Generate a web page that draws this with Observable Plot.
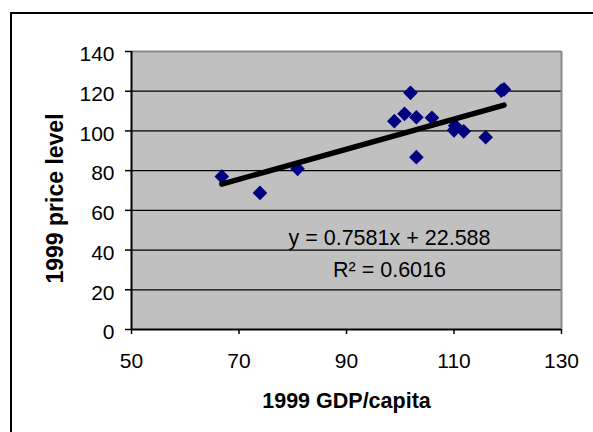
<!DOCTYPE html>
<html><head><meta charset="utf-8">
<script src="https://cdn.jsdelivr.net/npm/d3@7"></script>
<script src="https://cdn.jsdelivr.net/npm/@observablehq/plot@0.6"></script>
<style>
html,body{margin:0;padding:0;background:#fff;overflow:hidden;}
#wrap{position:relative;width:593px;height:432px;overflow:hidden;}
#border{position:absolute;left:10px;top:12px;width:700px;height:600px;border:2px solid #000;}
#chart{position:absolute;left:0;top:0;}
</style></head><body>
<div id="wrap"><div id="border"></div><div id="chart"></div></div>
<script>
// data
const gdp   = [66.8, 73.9, 80.9, 98.9, 100.8, 101.9, 103.0, 103.0, 105.9, 110.0, 110.2, 111.8, 115.9, 118.8, 119.3];
const price = [77.0, 68.8, 80.9, 104.9, 108.6, 119.2, 106.9, 86.8, 106.6, 100.3, 102.6, 99.8, 96.8, 120.3, 120.9];
const xTicks = [50, 70, 90, 110, 130];
const yTicks = [0, 20, 40, 60, 80, 100, 120, 140];
const gridTicks = [20, 40, 60, 80, 100, 120];
const slope = 0.7581, intercept = 22.588;
const eqLabel = "y = 0.7581x + 22.588";
const r2Label = "R² = 0.6016";
const xTitle = "1999 GDP/capita";
const yTitle = "1999 price level";

const points = gdp.map((g, i) => ({gdp: g, price: price[i]}));
const fit = d3.extent(gdp).map(x => ({gdp: x, price: slope * x + intercept}));

const chart = Plot.plot({
  width: 593, height: 432,
  marginLeft: 131, marginRight: 32, marginTop: 51, marginBottom: 103,
  style: {fontFamily: "'Liberation Sans', Arial, sans-serif", fontSize: "21px", background: "transparent", color: "#000", overflow: "visible"},
  x: {domain: [50, 130]},
  y: {domain: [0, 140]},
  marks: [
    Plot.frame({fill: "#c0c0c0"}),
    Plot.ruleY(gridTicks, {stroke: "#000", strokeWidth: 1.2}),
    Plot.ruleY([140], {stroke: "#8a8a8a", strokeWidth: 2}),
    Plot.ruleX([130], {stroke: "#8a8a8a", strokeWidth: 2}),
    Plot.axisX({ticks: xTicks, tickSize: 5, tickPadding: 19, label: null, fontSize: 21, strokeWidth: 1.5}),
    Plot.axisY({ticks: yTicks, tickSize: 6, text: null, label: null, strokeWidth: 1.5}),
    Plot.axisY({ticks: yTicks, tickSize: 0, tickPadding: 17, label: null, fontSize: 21, dy: 3}),
    Plot.ruleX([50], {stroke: "#000", strokeWidth: 2}),
    Plot.ruleY([0], {stroke: "#000", strokeWidth: 2}),
    Plot.dot(points, {x: "gdp", y: "price", symbol: "diamond2", r: 6.6, fill: "#000080", stroke: null}),
    Plot.line(fit, {x: "gdp", y: "price", stroke: "#000", strokeWidth: 5.5, strokeLinecap: "round"}),
    Plot.text([eqLabel], {x: () => 98, y: () => 42.8, text: d => d, lineAnchor: "bottom", fontSize: 21.5}),
    Plot.text([r2Label], {x: () => 98, y: () => 26.3, text: d => d, lineAnchor: "bottom", fontSize: 21.5}),
    Plot.text([xTitle], {frameAnchor: "bottom", dy: 78, text: d => d, fontWeight: "bold", lineAnchor: "bottom", textAnchor: "middle", fontSize: 21.5}),
    Plot.text([yTitle], {frameAnchor: "left", dx: -76, dy: 8, rotate: -90, text: d => d, fontWeight: "bold", textAnchor: "middle", lineAnchor: "middle", fontSize: 23})
  ]
});
document.getElementById("chart").appendChild(chart);
</script>
</body></html>
